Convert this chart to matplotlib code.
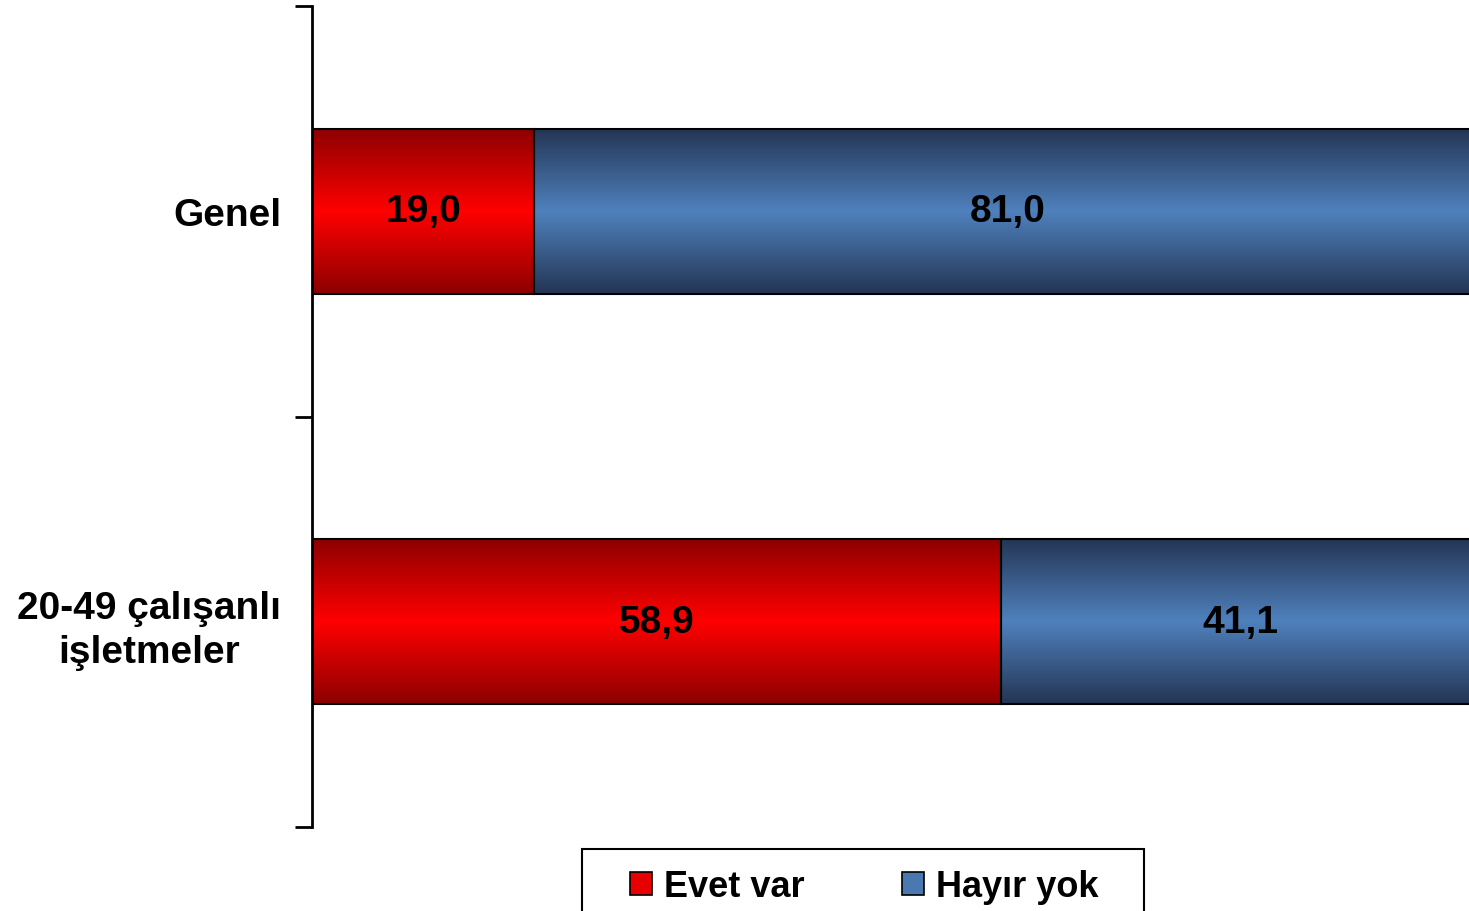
import numpy as np
import matplotlib
matplotlib.use("Agg")
import matplotlib.pyplot as plt
from matplotlib.colors import LinearSegmentedColormap
from matplotlib.patches import Patch, Rectangle

categories = ["Genel", "20-49 çalışanlı\nişletmeler"]
evet = [19.0, 58.9]
hayir = [81.0, 41.1]
series_names = ["Evet var", "Hayır yok"]

plt.rcParams['font.family'] = ['Liberation Sans', 'DejaVu Sans']

W, H = 1469, 912
fig = plt.figure(figsize=(W / 100, H / 100), dpi=100)
ax = fig.add_axes([312 / W, 1 - 828 / H, 1169 / W, 821 / H])

red_cmap = LinearSegmentedColormap.from_list("r", ["#8c0000", "#ff0000", "#8c0000"])
blue_cmap = LinearSegmentedColormap.from_list("b", ["#243554", "#4f81bd", "#243554"])
grad = np.linspace(0, 1, 256).reshape(-1, 1)

ypos = [0.5 + i for i in range(len(categories))]
bh = 0.402

def grad_bar(left, width, y, cmap):
    ax.imshow(grad, extent=[left, left + width, y + bh / 2, y - bh / 2],
              cmap=cmap, aspect='auto', interpolation='bilinear', zorder=2)
    ax.barh(y, width, left=left, height=bh, fill=False, edgecolor='black',
            linewidth=1.5, zorder=3)

for i, y in enumerate(ypos):
    grad_bar(0, evet[i], y, red_cmap)
    grad_bar(evet[i], hayir[i], y, blue_cmap)
    ax.text(evet[i] / 2, y, f"{evet[i]:.1f}".replace('.', ','), ha='center', va='center',
            fontsize=28, fontweight='bold', color='black', zorder=4)
    ax.text(evet[i] + hayir[i] / 2, y, f"{hayir[i]:.1f}".replace('.', ','), ha='center',
            va='center', fontsize=28, fontweight='bold', color='black', zorder=4)

ax.set_xlim(0, 100)
ax.set_ylim(len(categories), 0)
for s in ['top', 'right', 'bottom']:
    ax.spines[s].set_visible(False)
ax.spines['left'].set_linewidth(2)
ax.set_xticks([])
ax.set_yticks(range(len(categories) + 1))
ax.set_yticklabels([])
ax.tick_params(axis='y', which='major', length=12, width=2, direction='out')
ax.set_yticks(ypos, minor=True)
ax.set_yticklabels(categories, minor=True, fontsize=28, fontweight='bold',
                   ha='right', multialignment='center', linespacing=1.3)
ax.tick_params(axis='y', which='minor', length=0, pad=22)

handles = [Patch(facecolor='#e80000', edgecolor='black', linewidth=1.2),
           Patch(facecolor='#4a78b0', edgecolor='black', linewidth=1.2)]
leg = fig.legend(handles, series_names, loc='upper center',
                 bbox_to_anchor=(864 / W, 1 - 850 / H), ncol=2, frameon=False,
                 prop={'weight': 'bold', 'size': 26}, handlelength=0.61, handleheight=0.61,
                 handletextpad=0.33, columnspacing=2.7, borderpad=0.55, borderaxespad=0)
fig.patches.append(Rectangle((582 / W, -0.05), (1144 - 582) / W, 0.05 + (912 - 850) / H,
                             transform=fig.transFigure, fill=False, edgecolor='black',
                             linewidth=1.5))

fig.savefig("out.png", dpi=100)
